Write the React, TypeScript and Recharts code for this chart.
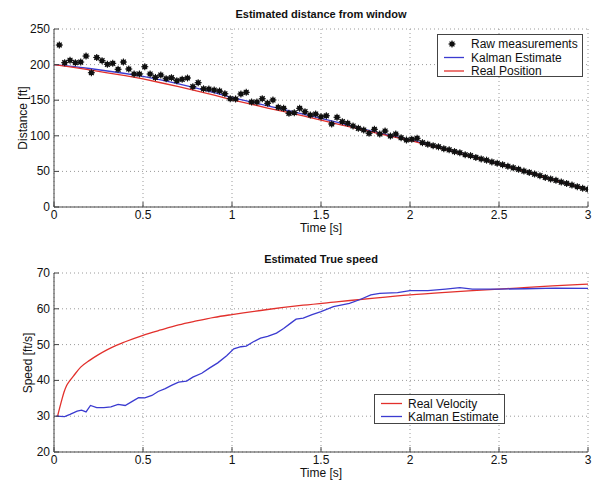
import React from 'react';
import { ComposedChart, Line, Scatter, XAxis, YAxis, CartesianGrid } from 'recharts';

const FONT = '"Liberation Sans", Arial, Helvetica, sans-serif';
const RED = '#e2302c';
const BLUE = '#3b3bd0';
const AXIS = '#444';

const timeTicks = [0, 0.5, 1, 1.5, 2, 2.5, 3];
const distTicks = [0, 50, 100, 150, 200, 250];
const speedTicks = [20, 30, 40, 50, 60, 70];

const rawTime = [
  0.03, 0.06, 0.09, 0.12, 0.15, 0.18, 0.21, 0.24, 0.27, 0.30,
  0.33, 0.36, 0.39, 0.42, 0.45, 0.48, 0.51, 0.54, 0.57, 0.60,
  0.63, 0.66, 0.69, 0.72, 0.75, 0.78, 0.81, 0.84, 0.87, 0.90,
  0.93, 0.96, 0.99, 1.02, 1.05, 1.08, 1.11, 1.14, 1.17, 1.20,
  1.23, 1.26, 1.29, 1.32, 1.35, 1.38, 1.41, 1.44, 1.47, 1.50,
  1.53, 1.56, 1.59, 1.62, 1.65, 1.68, 1.71, 1.74, 1.77, 1.80,
  1.83, 1.86, 1.89, 1.92, 1.95, 1.98, 2.01, 2.04, 2.07, 2.10,
  2.13, 2.16, 2.19, 2.22, 2.25, 2.28, 2.31, 2.34, 2.37, 2.40,
  2.43, 2.46, 2.49, 2.52, 2.55, 2.58, 2.61, 2.64, 2.67, 2.70,
  2.73, 2.76, 2.79, 2.82, 2.85, 2.88, 2.91, 2.94, 2.97, 3.00,
];
const rawDistance = [
  227.5, 202.7, 206, 202.7, 203.6, 212, 188.6, 210, 205.5, 200.4,
  201.8, 193.4, 203.6, 193.8, 186.8, 186.8, 197, 186.8, 182, 185.4,
  180.2, 181.6, 177.4, 179.3, 181.2, 169, 174.6, 166, 165.7, 164.3,
  162.9, 159.1, 152.1, 151.7, 158.7, 161, 147.5, 147.5, 152.1, 145.6,
  150.3, 140, 138.6, 131.6, 132.4, 138.6, 133.9, 129.2, 130.6, 126.8,
  128.2, 116.6, 126, 119.8, 117.6, 113.8, 110.5, 108.1, 103.5, 109.1,
  102.5, 106.7, 99.7, 102.5, 97.3, 94.1, 95.1, 96.5, 90.3, 88.2,
  86.1, 84.5, 81.9, 80.3, 77.8, 76.2, 73.4, 72.1, 69.6, 67.5,
  65.8, 63.3, 61.5, 59.4, 57.2, 55.0, 52.9, 50.5, 48.6, 46.2,
  44.0, 41.6, 39.5, 37.4, 35.0, 33.1, 30.8, 28.5, 26.3, 24.8,
];

const posTime = [
  0, 0.1, 0.2, 0.3, 0.4, 0.5, 0.6, 0.7, 0.8, 0.9, 1.0,
  1.1, 1.2, 1.3, 1.4, 1.5, 1.6, 1.7, 1.8, 1.9, 2.0,
  2.1, 2.2, 2.3, 2.4, 2.5, 2.6, 2.7, 2.8, 2.9, 3.0,
];
const realPosition = [
  200, 196.5, 192.5, 188.5, 184.5, 180, 174.5, 169, 163, 157, 150.5,
  145, 139, 133.5, 128, 122, 116, 110.5, 104.5, 99, 93.5,
  87, 80.5, 73.5, 67, 60, 53, 46, 38.5, 31.5, 24,
];
const kalmanPosition = [
  200, 197.5, 194.5, 191, 187.5, 183.5, 178.5, 173, 167, 160.5, 153.5,
  148, 142, 136.5, 130.5, 124.5, 118.5, 112, 105.5, 100, 94.5,
  87.8, 81, 74, 67.5, 60.5, 53.3, 46.2, 38.8, 31.7, 24.2,
];

const realVelTime = [
  0.02, 0.043, 0.056, 0.071, 0.09, 0.109, 0.15, 0.2, 0.25, 0.3, 0.35, 0.4,
  0.5, 0.6, 0.7, 0.8, 0.9, 1.0, 1.2, 1.4, 1.6, 1.8, 2.0, 2.2, 2.4, 2.6, 2.8, 3.0,
];
const realVelocity = [
  30, 34.4, 36.7, 38.6, 40, 41.2, 43.7, 45.6, 47.2, 48.6, 49.8, 50.8,
  52.6, 54.1, 55.5, 56.6, 57.6, 58.4, 59.8, 61.0, 62.0, 63.0, 63.9, 64.6, 65.2, 65.8, 66.4, 66.9,
];

const kalmanVelTime = [
  0.01, 0.06, 0.09, 0.13, 0.155, 0.18, 0.205, 0.24, 0.28, 0.32, 0.36, 0.4,
  0.435, 0.475, 0.51, 0.55, 0.585, 0.625, 0.66, 0.7, 0.745, 0.78, 0.83, 0.875,
  0.92, 0.97, 1.01, 1.05, 1.08, 1.12, 1.16, 1.2, 1.25, 1.29, 1.33, 1.36,
  1.4, 1.45, 1.5, 1.57, 1.66, 1.72, 1.78, 1.83, 1.93, 2.0, 2.1, 2.2,
  2.28, 2.35, 2.5, 2.65, 2.82, 3.0,
];
const kalmanVelocity = [
  30, 29.9, 30.5, 31.4, 31.7, 31.2, 33, 32.4, 32.4, 32.6, 33.3, 33,
  34, 35.2, 35.1, 35.8, 36.9, 37.7, 38.6, 39.5, 39.8, 40.9, 42, 43.5,
  44.9, 46.9, 48.8, 49.4, 49.6, 50.8, 51.8, 52.3, 53.2, 54.5, 56, 57.1,
  57.4, 58.4, 59.2, 60.6, 61.5, 62.6, 63.9, 64.3, 64.5, 65.1, 65.1, 65.5,
  65.9, 65.5, 65.5, 65.6, 65.8, 65.7,
];

const zip = (ts: number[], vs: number[]) => ts.map((t, i) => ({ t, v: vs[i] }));
const rawData = zip(rawTime, rawDistance);
const realPosData = zip(posTime, realPosition);
const kalmanPosData = zip(posTime, kalmanPosition);
const realVelData = zip(realVelTime, realVelocity);
const kalmanVelData = zip(kalmanVelTime, kalmanVelocity);

const XTick = (props: any) => {
  const { x, y, payload } = props;
  return (
    <g>
      <line x1={x} y1={y} x2={x} y2={y - 5} stroke={AXIS} strokeWidth={1} />
      <text x={x} y={y + 8} textAnchor="middle" dominantBaseline="central" fontSize={12} fill="#111" fontFamily={FONT}>
        {String(payload.value)}
      </text>
    </g>
  );
};

const YTick = (props: any) => {
  const { x, y, payload } = props;
  return (
    <g>
      <line x1={x} y1={y} x2={x + 5} y2={y} stroke={AXIS} strokeWidth={1} />
      <text x={x - 4} y={y} textAnchor="end" dominantBaseline="central" fontSize={12} fill="#111" fontFamily={FONT}>
        {String(payload.value)}
      </text>
    </g>
  );
};

const Star = (props: any) => {
  const { cx, cy } = props;
  if (cx == null || cy == null) return null;
  const r = 3.5;
  const d = r * 0.7;
  return (
    <g>
      <circle cx={cx} cy={cy} r={2.5} fill="#111" />
      <line x1={cx - r} y1={cy} x2={cx + r} y2={cy} stroke="#111" strokeWidth={1.1} />
      <line x1={cx} y1={cy - r} x2={cx} y2={cy + r} stroke="#111" strokeWidth={1.1} />
      <line x1={cx - d} y1={cy - d} x2={cx + d} y2={cy + d} stroke="#111" strokeWidth={1.1} />
      <line x1={cx - d} y1={cy + d} x2={cx + d} y2={cy - d} stroke="#111" strokeWidth={1.1} />
    </g>
  );
};

const textStyle: React.CSSProperties = { position: 'absolute', fontFamily: FONT, color: '#111', whiteSpace: 'nowrap', lineHeight: 1 };

export default function App() {
  return (
    <div style={{ position: 'absolute', left: 0, top: 0, width: 600, height: 485, background: '#fff', overflow: 'hidden' }}>
      {/* Top chart */}
      <div style={{ position: 'absolute', left: 0, top: 0 }}>
        <ComposedChart width={600} height={240} margin={{ top: 29, right: 12, bottom: 0, left: 0 }}>
          <CartesianGrid stroke="#9a9a9a" strokeDasharray="1 3" />
          <XAxis dataKey="t" type="number" domain={[0, 3]} ticks={timeTicks} allowDataOverflow
            height={33} tickSize={0} tickMargin={0} tickLine={false} stroke={AXIS} tick={<XTick />} interval={0} />
          <YAxis type="number" domain={[0, 250]} ticks={distTicks} allowDataOverflow
            width={54} tickSize={0} tickMargin={0} tickLine={false} stroke={AXIS} tick={<YTick />} interval={0} />
          <Scatter data={rawData} dataKey="v" shape={<Star />} isAnimationActive={false} />
          <Line data={kalmanPosData} dataKey="v" type="linear" dot={false} stroke={BLUE} strokeWidth={1.3} isAnimationActive={false} />
          <Line data={realPosData} dataKey="v" type="linear" dot={false} stroke={RED} strokeWidth={1.3} isAnimationActive={false} />
        </ComposedChart>
      </div>
      {/* Bottom chart */}
      <div style={{ position: 'absolute', left: 0, top: 240 }}>
        <ComposedChart width={600} height={245} margin={{ top: 33, right: 12, bottom: 0, left: 0 }}>
          <CartesianGrid stroke="#9a9a9a" strokeDasharray="1 3" />
          <XAxis dataKey="t" type="number" domain={[0, 3]} ticks={timeTicks} allowDataOverflow
            height={33} tickSize={0} tickMargin={0} tickLine={false} stroke={AXIS} tick={<XTick />} interval={0} />
          <YAxis type="number" domain={[20, 70]} ticks={speedTicks} allowDataOverflow
            width={54} tickSize={0} tickMargin={0} tickLine={false} stroke={AXIS} tick={<YTick />} interval={0} />
          <Line data={realVelData} dataKey="v" type="monotone" dot={false} stroke={RED} strokeWidth={1.3} isAnimationActive={false} />
          <Line data={kalmanVelData} dataKey="v" type="linear" dot={false} stroke={BLUE} strokeWidth={1.3} isAnimationActive={false} />
        </ComposedChart>
      </div>

      {/* Titles */}
      <div style={{ ...textStyle, left: 321, top: 9, transform: 'translateX(-50%)', fontSize: 11, fontWeight: 'bold' }}>Estimated distance from window</div>
      <div style={{ ...textStyle, left: 321, top: 254, transform: 'translateX(-50%)', fontSize: 11, fontWeight: 'bold' }}>Estimated True speed</div>

      {/* Axis labels */}
      <div style={{ ...textStyle, left: 321, top: 222, transform: 'translateX(-50%)', fontSize: 12 }}>Time [s]</div>
      <div style={{ ...textStyle, left: 321, top: 467, transform: 'translateX(-50%)', fontSize: 12 }}>Time [s]</div>
      <div style={{ ...textStyle, left: 23, top: 118, transform: 'translate(-50%, -50%) rotate(-90deg)', fontSize: 12 }}>Distance [ft]</div>
      <div style={{ ...textStyle, left: 28, top: 363, transform: 'translate(-50%, -50%) rotate(-90deg)', fontSize: 12 }}>Speed [ft/s]</div>

      {/* Top legend */}
      <div style={{ position: 'absolute', left: 437, top: 34, width: 146, height: 43, background: '#fff', border: `1px solid ${AXIS}`, boxSizing: 'border-box' }}>
        <svg width={30} height={43} style={{ position: 'absolute', left: 0, top: 0 }}>
          <Star cx={14} cy={9} />
          <line x1={6} y1={22.5} x2={26} y2={22.5} stroke={BLUE} strokeWidth={1.3} />
          <line x1={6} y1={36} x2={26} y2={36} stroke={RED} strokeWidth={1.3} />
        </svg>
        <div style={{ ...textStyle, left: 33, top: 3, fontSize: 12 }}>Raw measurements</div>
        <div style={{ ...textStyle, left: 33, top: 16.5, fontSize: 12 }}>Kalman Estimate</div>
        <div style={{ ...textStyle, left: 33, top: 30, fontSize: 12 }}>Real Position</div>
      </div>

      {/* Bottom legend */}
      <div style={{ position: 'absolute', left: 374, top: 394, width: 131, height: 30, background: '#fff', border: `1px solid ${AXIS}`, boxSizing: 'border-box' }}>
        <svg width={32} height={30} style={{ position: 'absolute', left: 0, top: 0 }}>
          <line x1={6} y1={8.5} x2={27} y2={8.5} stroke={RED} strokeWidth={1.3} />
          <line x1={6} y1={21.5} x2={27} y2={21.5} stroke={BLUE} strokeWidth={1.3} />
        </svg>
        <div style={{ ...textStyle, left: 33, top: 2.5, fontSize: 12 }}>Real Velocity</div>
        <div style={{ ...textStyle, left: 33, top: 15.5, fontSize: 12 }}>Kalman Estimate</div>
      </div>
    </div>
  );
}
